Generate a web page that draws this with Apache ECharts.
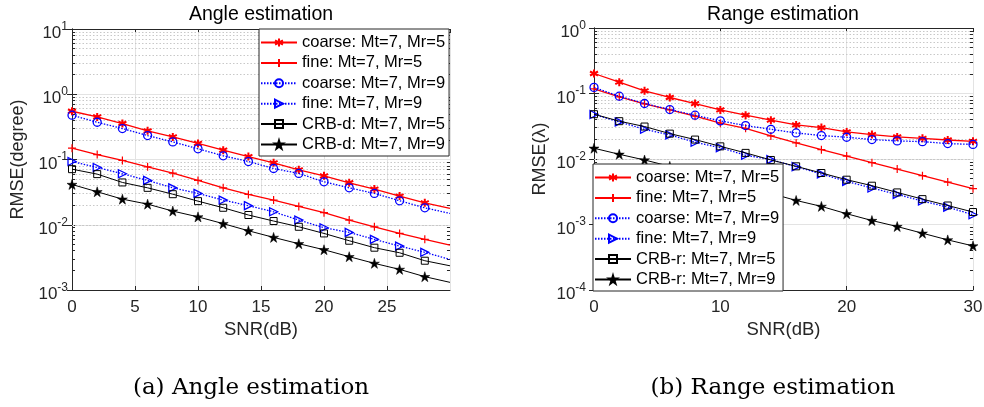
<!DOCTYPE html>
<html>
<head>
<meta charset="utf-8">
<script src="https://cdn.jsdelivr.net/npm/echarts@6/dist/echarts.min.js"></script>
<style>
  html, body { margin: 0; padding: 0; background: #fff; }
  #chart { width: 984px; height: 407px; }
</style>
</head>
<body>
<div id="chart"></div>
<script>
// SNR sweep (dB), shared by both panels
const snr = [0, 2, 4, 6, 8, 10, 12, 14, 16, 18, 20, 22, 24, 26, 28, 30];

// Angle estimation RMSE (degree)
const angCoarse5 = [0.549, 0.450, 0.356, 0.275, 0.222, 0.176, 0.139, 0.111, 0.0889, 0.0695, 0.0562, 0.0440, 0.0352, 0.0275, 0.0217, 0.0178];
const angFine5   = [0.149, 0.119, 0.0966, 0.0773, 0.0618, 0.0478, 0.0368, 0.0291, 0.0239, 0.0191, 0.0153, 0.0118, 0.00931, 0.00736, 0.00597, 0.00489];
const angCoarse9 = [0.478, 0.372, 0.298, 0.233, 0.186, 0.146, 0.114, 0.0931, 0.0728, 0.0611, 0.0455, 0.0368, 0.0302, 0.0233, 0.0182, 0.0149];
const angFine9   = [0.0931, 0.0755, 0.0604, 0.0478, 0.0368, 0.0302, 0.0239, 0.0196, 0.0158, 0.0118, 0.00899, 0.00764, 0.00597, 0.00471, 0.00378, 0.00294];
const crbD5      = [0.0711, 0.0597, 0.0445, 0.0368, 0.0294, 0.0230, 0.0182, 0.0141, 0.0114, 0.00931, 0.00736, 0.00569, 0.00445, 0.00372, 0.00281, 0.00235];
const crbD9      = [0.0414, 0.0320, 0.0247, 0.0207, 0.0162, 0.0132, 0.0104, 0.00809, 0.00640, 0.00512, 0.00414, 0.00324, 0.00256, 0.00207, 0.00160, 0.00131];

// Range estimation RMSE (wavelengths)
const rngCoarse5 = [0.202, 0.149, 0.110, 0.0869, 0.0703, 0.0562, 0.0466, 0.0391, 0.0331, 0.0302, 0.0259, 0.0236, 0.0217, 0.0207, 0.0195, 0.0186];
const rngFine5   = [0.118, 0.0889, 0.0695, 0.0562, 0.0450, 0.0352, 0.0294, 0.0225, 0.0176, 0.0139, 0.0111, 0.00879, 0.00703, 0.00556, 0.00445, 0.00352];
const rngCoarse9 = [0.124, 0.0910, 0.0703, 0.0569, 0.0466, 0.0382, 0.0324, 0.0284, 0.0250, 0.0228, 0.0215, 0.0198, 0.0189, 0.0184, 0.0172, 0.0167];
const rngFine9   = [0.0478, 0.0368, 0.0284, 0.0233, 0.0180, 0.0149, 0.0114, 0.00977, 0.00764, 0.00589, 0.00455, 0.00360, 0.00288, 0.00228, 0.00184, 0.00141];
const crbR5      = [0.0483, 0.0378, 0.0313, 0.0244, 0.0198, 0.0156, 0.0124, 0.00966, 0.00773, 0.00611, 0.00483, 0.00391, 0.00309, 0.00244, 0.00195, 0.00155];
const crbR9      = [0.0146, 0.0118, 0.00966, 0.00773, 0.00611, 0.00483, 0.00382, 0.00298, 0.00233, 0.00189, 0.00146, 0.00115, 0.000931, 0.000736, 0.000582, 0.000471];

const namesA = ['coarse: Mt=7, Mr=5', 'fine: Mt=7, Mr=5', 'coarse: Mt=7, Mr=9', 'fine: Mt=7, Mr=9', 'CRB-d: Mt=7, Mr=5', 'CRB-d: Mt=7, Mr=9'];
const namesB = ['coarse: Mt=7, Mr=5', 'fine: Mt=7, Mr=5', 'coarse: Mt=7, Mr=9', 'fine: Mt=7, Mr=9', 'CRB-r: Mt=7, Mr=5', 'CRB-r: Mt=7, Mr=9'];

const FONT = '"Liberation Sans", Arial, Helvetica, sans-serif';
const AXIS_C = '#262626';
const NONE = 'rgba(0,0,0,0)';

// marker glyphs
const SYM_ASTER = 'path://M0,-1L0,1M-0.87,-0.5L0.87,0.5M-0.87,0.5L0.87,-0.5';
const SYM_PLUS = 'path://M0,-1L0,1M-1,0L1,0';
const SYM_TRI = 'path://M-0.9,-1L1,0L-0.9,1Z';
const SYM_STAR = 'path://M0,-1L0.225,-0.309L0.951,-0.309L0.363,0.118L0.588,0.809L0,0.382L-0.588,0.809L-0.363,0.118L-0.951,-0.309L-0.225,-0.309Z';

const styles = [
  { symbol: SYM_ASTER, size: 8, line: { color: '#ff0000', width: 1.3, type: 'solid' }, item: { color: NONE, borderColor: '#ff0000', borderWidth: 2 } },
  { symbol: SYM_PLUS, size: 8, line: { color: '#ff0000', width: 1.3, type: 'solid' }, item: { color: NONE, borderColor: '#ff0000', borderWidth: 1.2 } },
  { symbol: 'circle', size: 8, line: { color: '#0000ff', width: 1.3, type: [1.5, 1.5] }, item: { color: NONE, borderColor: '#0000ff', borderWidth: 1.3 } },
  { symbol: SYM_TRI, size: 8, line: { color: '#0000ff', width: 1.3, type: [1.5, 1.5] }, item: { color: NONE, borderColor: '#0000ff', borderWidth: 1.3 } },
  { symbol: 'rect', size: 7, line: { color: '#000000', width: 1, type: 'solid' }, item: { color: NONE, borderColor: '#000000', borderWidth: 1 } },
  { symbol: SYM_STAR, size: 10, line: { color: '#000000', width: 1, type: 'solid' }, item: { color: '#000000', borderColor: '#000000', borderWidth: 0.5 } }
];

function pts(vals, lastMarker) {
  return vals.map((v, i) => (i === vals.length - 1 && !lastMarker) ? { value: [snr[i], v], symbol: 'none' } : [snr[i], v]);
}

function minorValues(lo, hi) {
  const out = [];
  for (let e = lo; e < hi; e++) for (let m = 2; m <= 9; m++) out.push(m * Math.pow(10, e));
  return out;
}

// dotted minor grid plus short inward minor ticks on both vertical edges
function minorMarks(lo, hi, xMax) {
  const vals = minorValues(lo, hi);
  const grid = vals.map(v => ({ yAxis: v }));
  const ticks = [];
  vals.forEach(v => {
    ticks.push([{ coord: [0, v] }, { coord: [xMax * 0.008, v] }]);
    ticks.push([{ coord: [xMax * 0.992, v] }, { coord: [xMax, v] }]);
  });
  return {
    silent: true, symbol: ['none', 'none'], z: 1, animation: false,
    label: { show: false },
    lineStyle: { color: '#c8c8c8', type: [1.5, 2], width: 1 },
    emphasis: { disabled: true },
    data: grid.concat(ticks.map(t => [Object.assign({}, t[0], { lineStyle: { color: AXIS_C, type: 'solid', width: 1 } }), t[1]]))
  };
}

function powLabel(v) {
  const e = Math.round(Math.log10(v));
  return '{b|10}{s|' + e + '}';
}
const powRich = {
  b: { fontFamily: FONT, fontSize: 17, color: AXIS_C, padding: [9, 0, 0, 0] },
  s: { fontFamily: FONT, fontSize: 12, color: AXIS_C, padding: [0, 0, 5, 0] }
};

function makeSeries(names, arrays, xi, lastMarker, lo, hi) {
  return arrays.map((arr, k) => {
    const st = styles[k];
    const s = {
      name: names[k], type: 'line', xAxisIndex: xi, yAxisIndex: xi,
      data: pts(arr, lastMarker),
      symbol: st.symbol, symbolSize: st.size, showAllSymbol: true,
      lineStyle: st.line, itemStyle: st.item,
      animation: false, silent: true, z: 2 + k * 0.01,
      emphasis: { disabled: true }
    };
    if (k === 0) s.markLine = minorMarks(lo, hi, 30);
    return s;
  });
}

const gridA = { left: 72, top: 29, width: 378, height: 261 };
const gridB = { left: 594, top: 28, width: 379, height: 262 };

function xAxes(gi, interval, hideMax) {
  return [
    {
      type: 'value', gridIndex: gi, min: 0, max: 30, interval: interval, position: 'bottom',
      name: 'SNR(dB)', nameLocation: 'middle', nameGap: 30,
      nameTextStyle: { fontFamily: FONT, fontSize: 18.5, color: AXIS_C },
      axisLine: { show: true, lineStyle: { color: AXIS_C, width: 1 } },
      axisTick: { show: true, inside: true, length: 4, lineStyle: { color: AXIS_C } },
      axisLabel: { fontFamily: FONT, fontSize: 17, color: AXIS_C, margin: 9, showMaxLabel: !hideMax, showMinLabel: true },
      splitLine: { show: true, lineStyle: { color: '#e3e3e3', width: 1 } }
    },
    {
      type: 'value', gridIndex: gi, min: 0, max: 30, interval: interval, position: 'top',
      axisLine: { show: true, lineStyle: { color: AXIS_C, width: 1 } },
      axisTick: { show: true, inside: true, length: 4, lineStyle: { color: AXIS_C } },
      axisLabel: { show: false }, splitLine: { show: false }
    }
  ];
}

function yAxes(gi, min, max, name, margin) {
  return [
    {
      type: 'log', logBase: 10, gridIndex: gi, min: min, max: max, position: 'left',
      name: name, nameLocation: 'middle', nameGap: 45, nameRotate: 90,
      nameTextStyle: { fontFamily: FONT, fontSize: 18, color: AXIS_C },
      axisLine: { show: true, lineStyle: { color: AXIS_C, width: 1 } },
      axisTick: { show: true, inside: true, length: 5, lineStyle: { color: AXIS_C } },
      axisLabel: { formatter: powLabel, rich: powRich, margin: margin, align: 'right' },
      splitLine: { show: true, lineStyle: { color: '#e3e3e3', width: 1 } }
    },
    {
      type: 'log', logBase: 10, gridIndex: gi, min: min, max: max, position: 'right',
      axisLine: { show: true, lineStyle: { color: AXIS_C, width: 1 } },
      axisTick: { show: true, inside: true, length: 5, lineStyle: { color: AXIS_C } },
      axisLabel: { show: false }, splitLine: { show: false }
    }
  ];
}

const xs = xAxes(0, 5, true).concat(xAxes(1, 10, false));
const ys = yAxes(0, 0.001, 10, 'RMSE(degree)', 4).concat(yAxes(1, 0.0001, 1, 'RMSE(\u03bb)', 8));

// grid 0 uses axes 0 (bottom/left); grid 1 uses axes 2
const seriesA = makeSeries(namesA, [angCoarse5, angFine5, angCoarse9, angFine9, crbD5, crbD9], 0, false, -3, 1);
const seriesB = makeSeries(namesB, [rngCoarse5, rngFine5, rngCoarse9, rngFine9, crbR5, crbR9], 2, true, -4, 0);

function legendAt(left, top, names) {
  return {
    orient: 'vertical', left: left, top: top, data: names,
    backgroundColor: '#ffffff', borderColor: AXIS_C, borderWidth: 1,
    padding: [5, 4, 3, 1], itemWidth: 36, itemHeight: 10, itemGap: 3.4,
    selectedMode: false,
    textStyle: { fontFamily: FONT, fontSize: 16.5, lineHeight: 17, color: '#000' },
    z: 10
  };
}

const chart = echarts.init(document.getElementById('chart'), null, { renderer: 'canvas' });
chart.setOption({
  backgroundColor: '#ffffff',
  animation: false,
  grid: [
    Object.assign({ outerBoundsMode: 'none' }, gridA),
    Object.assign({ outerBoundsMode: 'none' }, gridB)
  ],
  xAxis: xs,
  yAxis: ys,
  legend: [legendAt(259, 29, namesA), legendAt(593, 164, namesB)],
  series: seriesA.concat(seriesB),
  graphic: [
    { type: 'text', x: 261, y: 15, style: { text: 'Angle estimation', fontFamily: FONT, fontSize: 19.5, fill: '#000', textAlign: 'center', textVerticalAlign: 'middle' } },
    { type: 'text', x: 783, y: 15, style: { text: 'Range estimation', fontFamily: FONT, fontSize: 19.5, fill: '#000', textAlign: 'center', textVerticalAlign: 'middle' } },
    { type: 'text', x: 251, y: 388, style: { text: '(a) Angle estimation', fontFamily: '"DejaVu Serif", serif', fontSize: 23, fill: '#000', textAlign: 'center', textVerticalAlign: 'middle' } },
    { type: 'text', x: 773, y: 388, style: { text: '(b) Range estimation', fontFamily: '"DejaVu Serif", serif', fontSize: 23, fill: '#000', textAlign: 'center', textVerticalAlign: 'middle' } }
  ]
});
</script>
</body>
</html>
